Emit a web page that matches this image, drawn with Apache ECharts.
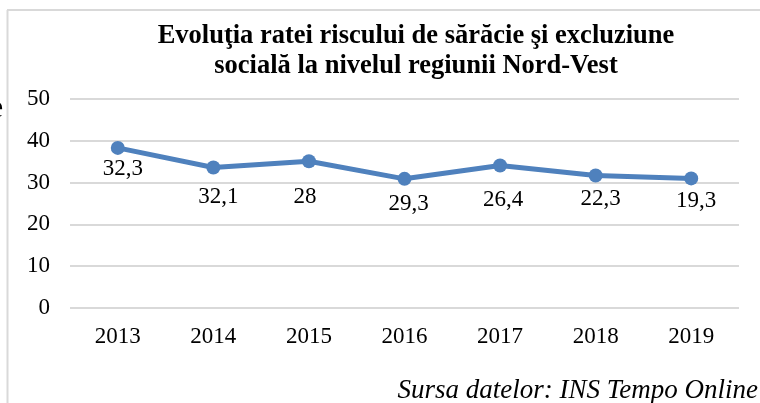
<!DOCTYPE html>
<html>
<head>
<meta charset="utf-8">
<script src="https://cdn.jsdelivr.net/npm/echarts@6/dist/echarts.min.js"></script>
<style>
  html, body { margin: 0; padding: 0; background: #fff; }
  #chart { width: 760px; height: 403px; }
</style>
</head>
<body>
<div id="chart"></div>
<script>
// ani
const years = ['2013', '2014', '2015', '2016', '2017', '2018', '2019'];
// pozitia punctelor pe grafic
const rata = [38.3, 33.6, 35.1, 30.9, 34.1, 31.7, 31.0];
// etichetele afisate sub puncte
const etichete = ['32,3', '32,1', '28', '29,3', '26,4', '22,3', '19,3'];

const serif = 'Liberation Serif';
// deplasarea etichetelor fata de punct
const labelShift = [[5, 21], [5, 29], [-4, 36], [4, 25], [3, 34], [5, 23], [5, 23]];

const chart = echarts.init(document.getElementById('chart'));

chart.setOption({
    animation: false,
    backgroundColor: '#ffffff',
    title: {
        text: 'Evoluţia ratei riscului de sărăcie şi excluziune\nsocială la nivelul regiunii Nord-Vest',
        left: 416,
        top: 21,
        textAlign: 'center',
        padding: 0,
        textStyle: {
            fontFamily: serif,
            fontWeight: 'bold',
            fontSize: 26.5,
            lineHeight: 30,
            color: '#000'
        }
    },
    grid: { left: 70, right: 21, top: 99, bottom: 95 },
    xAxis: {
        type: 'category',
        data: years,
        boundaryGap: true,
        axisLine: { show: false },
        axisTick: { show: false },
        axisLabel: { fontFamily: serif, fontSize: 23, color: '#000', margin: 17 }
    },
    yAxis: {
        type: 'value',
        min: 0,
        max: 50,
        interval: 10,
        axisLine: { show: false },
        axisTick: { show: false },
        axisLabel: { fontFamily: serif, fontSize: 23, color: '#000', margin: 20 },
        splitLine: { lineStyle: { color: '#d9d9d9', width: 2 } }
    },
    series: [{
        type: 'line',
        data: rata.map((v, i) => ({
            value: v,
            label: { offset: labelShift[i] }
        })),
        symbol: 'circle',
        symbolSize: 14,
        color: '#4F81BD',
        lineStyle: { width: 5, color: '#4F81BD' },
        itemStyle: { color: '#4F81BD' },
        label: {
            show: true,
            position: 'inside',
            formatter: p => etichete[p.dataIndex],
            fontFamily: serif,
            fontSize: 23,
            color: '#000'
        }
    }],
    graphic: [
        { type: 'line', shape: { x1: 7.5, y1: 10, x2: 7.5, y2: 403 }, style: { stroke: '#d9d9d9', lineWidth: 2 } },
        { type: 'line', shape: { x1: 7, y1: 10, x2: 760, y2: 10 }, style: { stroke: '#d9d9d9', lineWidth: 2 } },
        { type: 'text', left: -11, top: 93, style: { text: 'e', font: '32px "Liberation Serif"', fill: '#000' } },
        { type: 'text', right: 2, top: 377, style: { text: 'Sursa datelor: INS Tempo Online', font: 'italic 27px "Liberation Serif"', fill: '#000' } }
    ]
});

window.addEventListener('resize', () => chart.resize());
</script>
</body>
</html>
